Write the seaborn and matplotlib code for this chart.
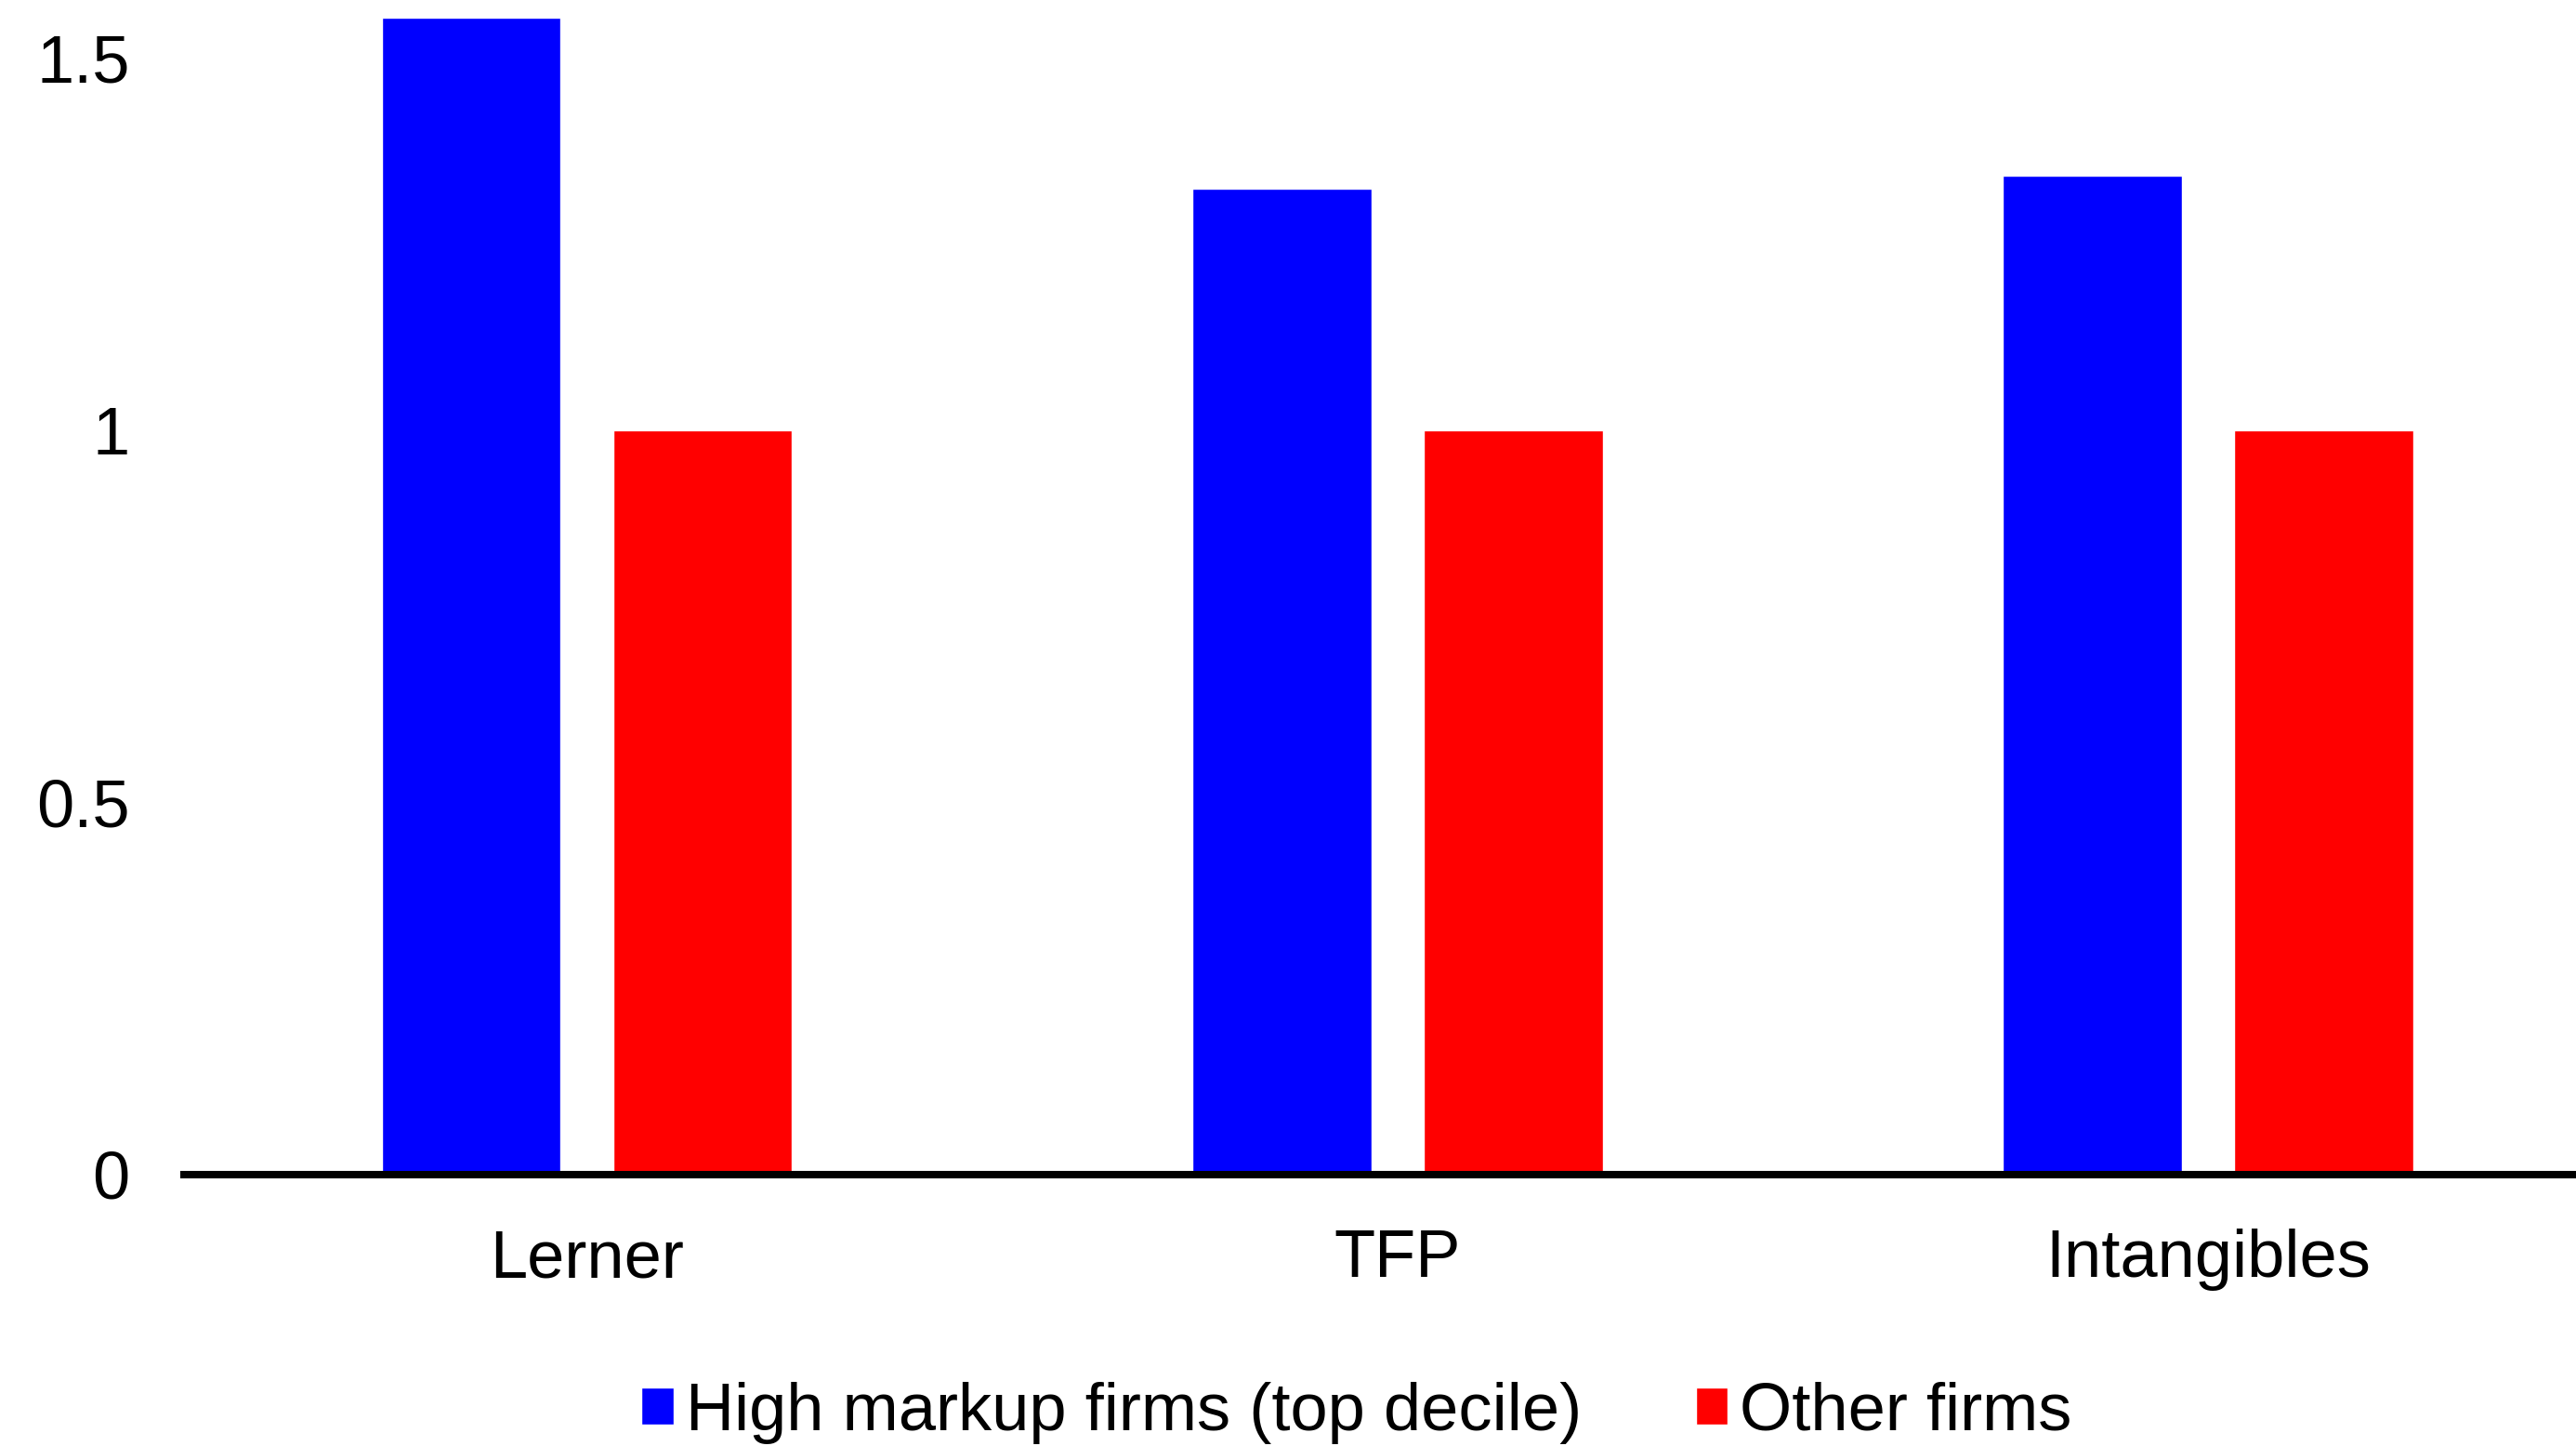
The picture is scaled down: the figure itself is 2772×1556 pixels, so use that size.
import pandas as pd
import matplotlib
matplotlib.use('Agg')
import matplotlib.pyplot as plt
import seaborn as sns

# values
categories = ["Lerner", "TFP", "Intangibles"]
high_markup = [1.554, 1.325, 1.342]
other_firms = [1.0, 1.0, 1.0]
series_names = ["High markup firms (top decile)", "Other firms"]
y_ticks = [0, 0.5, 1, 1.5]
y_tick_labels = ["0", "0.5", "1", "1.5"]

df = pd.DataFrame({
    "category": categories * 2,
    "value": high_markup + other_firms,
    "series": [series_names[0]] * 3 + [series_names[1]] * 3,
})

sns.set_style("white")
plt.rcParams["font.family"] = ["Liberation Sans", "DejaVu Sans"]

fig = plt.figure(figsize=(27.72, 15.56), dpi=100)
ax = fig.add_axes([198 / 2772, 292 / 1556, 1 - 198 / 2772, 1 - 292 / 1556])

sns.barplot(data=df, x="category", y="value", hue="series", order=categories,
            hue_order=series_names, palette=["#0000FF", "#FF0000"],
            width=0.571, gap=0.226, saturation=1, legend=True, ax=ax)

ax.set_xlim(-0.497, 2.454)
ax.set_ylim(0, 1.578)
ax.set_yticks(y_ticks)
ax.set_yticklabels(y_tick_labels)
ax.set_xlabel("")
ax.set_ylabel("")
ax.tick_params(axis="both", length=0, labelsize=52, colors="black")
ax.tick_params(axis="y", pad=42)
ax.tick_params(axis="x", pad=42)

for side in ["left", "right", "top"]:
    ax.spines[side].set_visible(False)
ax.spines["bottom"].set_color("black")
ax.spines["bottom"].set_linewidth(5.8)

handles, labels = ax.get_legend_handles_labels()
ax.get_legend().remove()
fig.legend(handles, labels, loc="center", bbox_to_anchor=(1460 / 2772, 1 - 1520 / 1556),
           ncol=2, frameon=False, fontsize=52, labelcolor="black",
           handlelength=0.48, handleheight=0.48, handletextpad=0.18,
           columnspacing=1.7, borderaxespad=0, borderpad=0)

fig.savefig("out.png", dpi=100)
plt.close(fig)
